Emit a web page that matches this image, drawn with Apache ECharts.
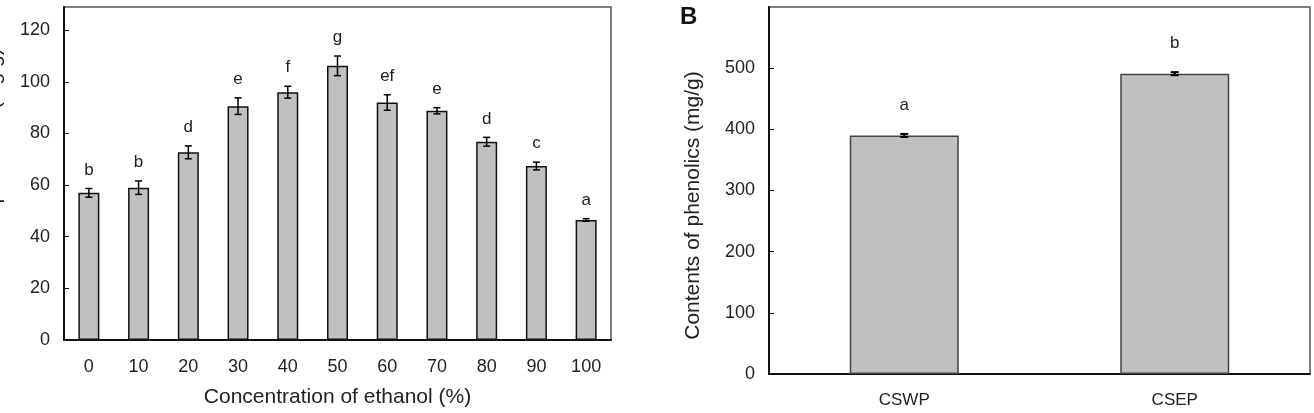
<!DOCTYPE html>
<html lang="en">
<head>
<meta charset="utf-8">
<title>Phenolics content</title>
<script src="https://cdn.jsdelivr.net/npm/echarts@6/dist/echarts.min.js"></script>
<style>
  html, body { margin: 0; padding: 0; background: #fff; }
  #chart { width: 1314px; height: 413px; }
</style>
</head>
<body>
<div id="chart"></div>
<script>
// Panel A: ethanol concentration
var concLabels = ['0', '10', '20', '30', '40', '50', '60', '70', '80', '90', '100'];
var concMeans = [57.0, 59.0, 72.7, 90.6, 96.0, 106.2, 92.0, 88.8, 76.8, 67.4, 46.5];
var concErrors = [1.7, 2.6, 2.5, 3.2, 2.3, 3.8, 3.0, 1.2, 1.7, 1.5, 0.5];
var concLetters = ['b', 'b', 'd', 'e', 'f', 'g', 'ef', 'e', 'd', 'c', 'a'];

// Panel B: water vs ethanol extract
var extractLabels = ['CSWP', 'CSEP'];
var extractMeans = [390, 491];
var extractErrors = [2.5, 2.5];
var extractLetters = ['a', 'b'];

var yTicksA = [0, 129, 20];   // min, max, interval
var yTicksB = [0, 600, 100];

var font = '"Liberation Sans", Arial, sans-serif';

function errorItem(letters, gap, capW, lw) {
  return function (params, api) {
    var x = api.value(0), m = api.value(1), e = api.value(2);
    var top = api.coord([x, m + e]);
    var bot = api.coord([x, m - e]);
    var line = { stroke: '#000', lineWidth: lw };
    return {
      type: 'group',
      children: [
        { type: 'line', shape: { x1: top[0], y1: top[1], x2: bot[0], y2: bot[1] }, style: line },
        { type: 'line', shape: { x1: top[0] - capW / 2, y1: top[1], x2: top[0] + capW / 2, y2: top[1] }, style: line },
        { type: 'line', shape: { x1: bot[0] - capW / 2, y1: bot[1], x2: bot[0] + capW / 2, y2: bot[1] }, style: line },
        { type: 'text', style: {
            text: letters[params.dataIndex], x: top[0], y: top[1] - gap,
            align: 'center', verticalAlign: 'bottom',
            fontSize: 17, fontFamily: font, fill: '#222'
        } }
      ]
    };
  };
}

function errData(means, errs) {
  return means.map(function (m, i) { return [i, m, errs[i]]; });
}

var chart = echarts.init(document.getElementById('chart'));
chart.setOption({
  animation: false,
  textStyle: { fontFamily: font },
  title: {
    text: 'B', left: 675, top: 0,
    textStyle: { fontSize: 24, fontWeight: 'bold', color: '#111', fontFamily: font }
  },
  grid: [
    { left: 64, top: 7, width: 547, height: 333, show: true, borderColor: '#555', borderWidth: 1.5,
      containLabel: false, outerBoundsMode: 'none' },
    { left: 769, top: 7, width: 541, height: 367, show: true, borderColor: '#555', borderWidth: 1.5,
      containLabel: false, outerBoundsMode: 'none' }
  ],
  xAxis: [{
    gridIndex: 0,
    type: 'category',
    data: concLabels,
    name: 'Concentration of ethanol (%)',
    nameLocation: 'middle',
    nameGap: 47,
    nameTextStyle: { fontSize: 21, color: '#222' },
    axisLine: { lineStyle: { color: '#111', width: 2 } },
    axisTick: { inside: true, length: 5, lineStyle: { color: '#111' } },
    axisLabel: { margin: 18, fontSize: 18, color: '#222' }
  }, {
    gridIndex: 1,
    type: 'category',
    data: extractLabels,
    axisLine: { lineStyle: { color: '#111', width: 2 } },
    axisTick: { inside: true, length: 5, lineStyle: { color: '#111' } },
    axisLabel: { margin: 18, fontSize: 17, color: '#222' }
  }],
  yAxis: [{
    gridIndex: 0,
    type: 'value',
    min: yTicksA[0], max: yTicksA[1], interval: yTicksA[2],
    name: 'Contents of phenolics (mg/g)',
    nameLocation: 'middle',
    nameGap: 59,
    nameTextStyle: { fontSize: 21, color: '#222', padding: [0, 18, 0, 0] },
    splitLine: { show: false },
    axisLine: { show: true, lineStyle: { color: '#111', width: 2 } },
    axisTick: { show: true, inside: true, length: 5, lineStyle: { color: '#111' } },
    axisLabel: { margin: 14, fontSize: 18, color: '#222', showMaxLabel: false }
  }, {
    gridIndex: 1,
    type: 'value',
    min: yTicksB[0], max: yTicksB[1], interval: yTicksB[2],
    name: 'Contents of phenolics (mg/g)',
    nameLocation: 'middle',
    nameGap: 65,
    nameTextStyle: { fontSize: 21, color: '#222', padding: [0, 30, 0, 0] },
    splitLine: { show: false },
    axisLine: { show: true, lineStyle: { color: '#111', width: 2 } },
    axisTick: { show: true, inside: true, length: 5, lineStyle: { color: '#111' } },
    axisLabel: { margin: 14, fontSize: 18, color: '#222', showMaxLabel: false }
  }],
  series: [{
    type: 'bar',
    xAxisIndex: 0, yAxisIndex: 0,
    data: concMeans,
    barWidth: 21,
    itemStyle: { color: '#c0c0c0', borderColor: '#111', borderWidth: 1.5 }
  }, {
    type: 'custom',
    xAxisIndex: 0, yAxisIndex: 0,
    data: errData(concMeans, concErrors),
    renderItem: errorItem(concLetters, 10, 7, 1.5),
    z: 5
  }, {
    type: 'bar',
    xAxisIndex: 1, yAxisIndex: 1,
    data: extractMeans,
    barWidth: 109,
    itemStyle: { color: '#c0c0c0', borderColor: '#444', borderWidth: 1.5 }
  }, {
    type: 'custom',
    xAxisIndex: 1, yAxisIndex: 1,
    data: errData(extractMeans, extractErrors),
    renderItem: errorItem(extractLetters, 20, 8, 2),
    z: 5
  }]
});
</script>
</body>
</html>
